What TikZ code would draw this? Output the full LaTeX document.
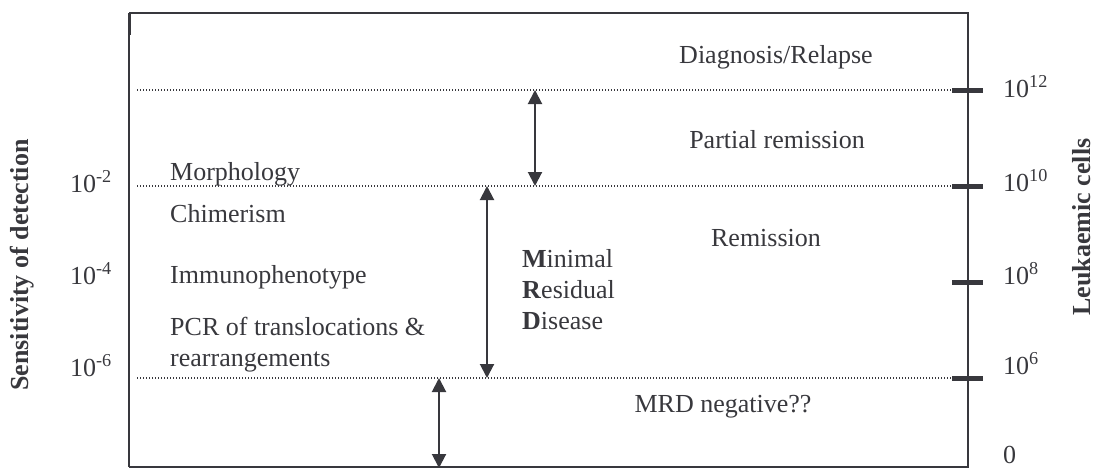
\documentclass[tikz,border=0pt]{standalone}
\usepackage{fontspec}
\setmainfont{Liberation Serif}
\usepackage{tikz}
\usetikzlibrary{arrows.meta,positioning}
\definecolor{cInk}{HTML}{38383D}
\tikzset{
  txt/.style={font=\fontsize{26}{31}\selectfont, text=cInk, inner sep=0pt},
  axtitle/.style={txt, font=\fontsize{26}{31}\selectfont\bfseries, rotate=90},
  level/.style={draw=cInk, line width=1.1pt, dash pattern=on 1.1pt off 1.9pt},
  frame/.style={draw=cInk, line width=2pt},
  tick/.style={draw=cInk, line width=5pt},
  span/.style={{Triangle[length=14pt,width=14pt]}-{Triangle[length=14pt,width=14pt]},
               draw=cInk, line width=2pt},
}

\begin{document}
\begin{tikzpicture}[x=1pt, y=-1pt]
  \useasboundingbox (0,0) rectangle (1102,469);
  % frame and right-hand axis
  \coordinate (tl) at (129,13);
  \coordinate (tr) at (968,13);
  \coordinate (bl) at (129,467);
  \coordinate (br) at (968,467);
  \draw[frame] (bl) -- (br) -- (tr) -- (tl);
  \draw[cInk, line width=1.2pt] (tl) -- (bl);
  \draw[cInk, line width=3pt] (tl) -- ++(0,22);
  % levels --- dotted lines with ticks on the axis
  \coordinate (L12) at (968,90);
  \coordinate (L10) at (968,186);
  \coordinate (L8)  at (968,282);
  \coordinate (L6)  at (968,378);
  \foreach \lv in {L12,L10,L6}
    \draw[level] (137,0 |- \lv) -- ([xshift=-16pt]\lv);
  \foreach \lv in {L12,L10,L8,L6}
    \draw[tick] ([xshift=-16pt]\lv) -- ([xshift=15pt]\lv);
  % right labels
  \node[txt, anchor=base west] (r12) at (1003,97)  {10\textsuperscript{12}};
  \node[txt, anchor=base west] (r10) at (1003,191) {10\textsuperscript{10}};
  \node[txt, anchor=base west] (r8)  at (1003,284) {10\textsuperscript{8}};
  \node[txt, anchor=base west] (r6)  at (1003,374) {10\textsuperscript{6}};
  \node[txt, anchor=base west] (r0)  at (1003,463) {0};
  \node[axtitle] (leuk) at (1082,227) {Leukaemic cells};
  % left labels
  \node[txt, anchor=base east] (s2) at (112,192) {10\textsuperscript{-2}};
  \node[txt, anchor=base east] (s4) at (112,284) {10\textsuperscript{-4}};
  \node[txt, anchor=base east] (s6) at (112,376) {10\textsuperscript{-6}};
  \node[axtitle] (sens) at (22,265) {Sensitivity of detection};
  % methods
  \node[txt, anchor=base west] (morph) at (170,180) {Morphology};
  \node[txt, anchor=base west] (chim)  at (170,222) {Chimerism};
  \node[txt, anchor=base west] (immu)  at (170,283) {Immunophenotype};
  \node[txt, anchor=base west] (pcr)   at (170,335) {PCR of translocations \&};
  \node[txt, anchor=base west] (rearr) at (170,366) {rearrangements};
  % stages
  \node[txt, anchor=base] (diag) at (776,63)  {Diagnosis/Relapse};
  \node[txt, anchor=base] (part) at (777,148) {Partial remission};
  \node[txt, anchor=base] (rem)  at (766,246) {Remission};
  \node[txt, anchor=base] (neg)  at (723,412) {MRD negative??};
  \node[txt, anchor=base west] (mrd1) at (522,267) {\textbf{M}inimal};
  \node[txt, anchor=base west] (mrd2) at (522,298) {\textbf{R}esidual};
  \node[txt, anchor=base west] (mrd3) at (522,329) {\textbf{D}isease};
  % ranges
  \coordinate (a1t) at (535,90);  \coordinate (a1b) at (535,186);
  \coordinate (a2t) at (487,186); \coordinate (a2b) at (487,378);
  \coordinate (a3t) at (439,378); \coordinate (a3b) at (439,468);
  \draw[span] (a1t) -- (a1b);
  \draw[span] (a2t) -- (a2b);
  \draw[span] (a3t) -- (a3b);
\end{tikzpicture}
\end{document}
